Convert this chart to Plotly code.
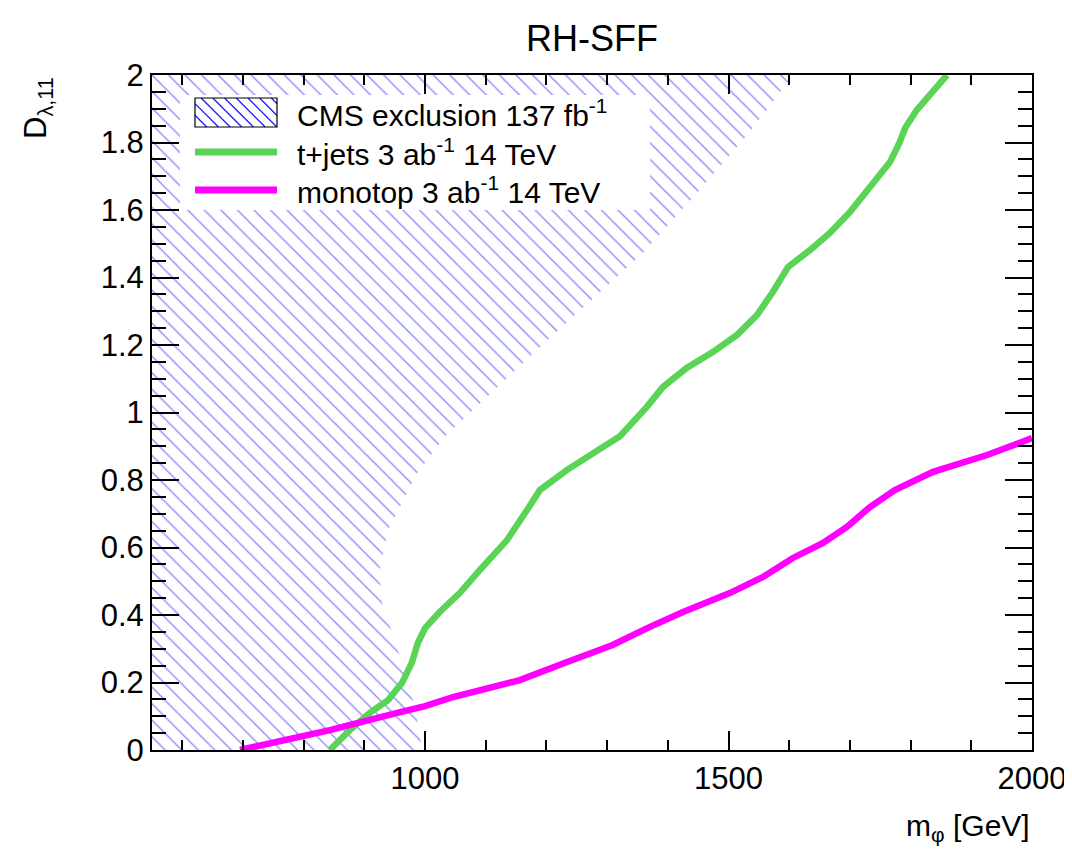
import plotly.graph_objects as go

# ---------------- data ----------------
cms_x = [550, 995, 988, 975, 955, 942, 929, 924, 939, 987, 1033, 1184, 1359, 1441, 1535, 1606, 550]
cms_y = [0, 0, 0.08, 0.187, 0.296, 0.364, 0.436, 0.524, 0.652, 0.821, 0.93, 1.185, 1.473, 1.636, 1.831, 2.0, 2.0]

tjets_x = [843, 876, 909, 939, 962, 978, 988, 1000, 1024, 1057, 1090, 1135, 1168, 1189, 1234,
           1277, 1321, 1365, 1392, 1431, 1474, 1514, 1547, 1573, 1598, 1634, 1667, 1700, 1733,
           1766, 1782, 1791, 1810, 1860]
tjets_y = [0, 0.059, 0.110, 0.148, 0.199, 0.258, 0.317, 0.361, 0.409, 0.465, 0.533, 0.622, 0.711,
           0.77, 0.83, 0.88, 0.93, 1.016, 1.076, 1.132, 1.179, 1.230, 1.289, 1.357, 1.431, 1.481,
           1.532, 1.594, 1.665, 1.742, 1.801, 1.843, 1.896, 2.0]

monotop_x = [695, 843, 954, 1000, 1046, 1156, 1234, 1309, 1366, 1425, 1502, 1557, 1606, 1655,
             1695, 1733, 1774, 1837, 1926, 2000]
monotop_y = [0, 0.059, 0.110, 0.13, 0.157, 0.207, 0.261, 0.311, 0.361, 0.409, 0.465, 0.513,
             0.569, 0.613, 0.661, 0.720, 0.770, 0.824, 0.874, 0.924]

legend_labels = ["CMS exclusion 137 fb<sup>-1</sup>",
                 "t+jets 3 ab<sup>-1</sup> 14 TeV",
                 "monotop 3 ab<sup>-1</sup> 14 TeV"]

x_range = [550, 2000]
y_range = [0, 2]

# ---------------- styling ----------------
GREEN = "rgb(89,212,84)"
MAGENTA = "rgb(255,0,255)"
HATCH = "rgb(30,30,250)"
FONT = "Liberation Sans"

OFF = 8                      # browser body margin
W, H = 1072 - OFF, 849 - OFF
# plot area in reference-page pixels
L, R, T, B = 152, 1032, 75, 750
PW, PH = R - L, B - T


def px(x):
    return (x - L) / PW


def py(y):
    return (B - y) / PH


fig = go.Figure()

fig.add_trace(go.Scatter(
    x=cms_x, y=cms_y, mode="lines", fill="toself",
    line=dict(width=0, color="rgba(0,0,0,0)"),
    fillcolor="rgba(0,0,0,0)",
    fillpattern=dict(shape="\\", fgcolor=HATCH, bgcolor="rgba(0,0,0,0)",
                     size=11.7, solidity=0.12),
    showlegend=False, hoverinfo="skip"))

fig.add_trace(go.Scatter(x=tjets_x, y=tjets_y, mode="lines",
                         line=dict(color=GREEN, width=6.5), showlegend=False))
fig.add_trace(go.Scatter(x=monotop_x, y=monotop_y, mode="lines",
                         line=dict(color=MAGENTA, width=6.5), showlegend=False))

# ---------------- manual legend ----------------
shapes = []
shapes.append(dict(type="rect", xref="paper", yref="paper",
                   x0=px(180), x1=px(650), y0=py(210), y1=py(95),
                   fillcolor="white", line=dict(width=0), layer="above"))
# hatched swatch
sx0, sx1, sy0, sy1 = 195, 277, 98, 127
segs = []
c = sx0 - sy1
while c <= sx1 - sy0:
    ya = max(sy0, sx0 - c)
    yb = min(sy1, sx1 - c)
    if yb > ya:
        segs.append("M%.4f,%.4f L%.4f,%.4f" % (px(ya + c), py(ya), px(yb + c), py(yb)))
    c += 11.7
shapes.append(dict(type="path", xref="paper", yref="paper", path=" ".join(segs),
                   line=dict(color=HATCH, width=1.3), layer="above"))
shapes.append(dict(type="rect", xref="paper", yref="paper",
                   x0=px(sx0), x1=px(sx1), y0=py(sy1), y1=py(sy0),
                   line=dict(color="black", width=1.2), layer="above"))
for ypix, col in [(152, GREEN), (190, MAGENTA)]:
    shapes.append(dict(type="line", xref="paper", yref="paper",
                       x0=px(195), x1=px(277), y0=py(ypix), y1=py(ypix),
                       line=dict(color=col, width=7), layer="above"))

annotations = []
for lab, ypix in zip(legend_labels, [113, 152, 190]):
    annotations.append(dict(text=lab, xref="paper", yref="paper", x=px(295), y=py(ypix),
                            xanchor="left", yanchor="middle", showarrow=False,
                            font=dict(family=FONT, size=30, color="black")))

# axis titles
annotations.append(dict(text="m<sub>φ</sub> [GeV]", xref="paper", yref="paper",
                        x=1.0, y=py(827), xanchor="right", yanchor="middle",
                        showarrow=False, font=dict(family=FONT, size=30, color="black")))
annotations.append(dict(text="D<sub>λ,11</sub>", xref="paper", yref="paper",
                        x=px(38), y=1.0, xanchor="center", yanchor="top", textangle=-90,
                        showarrow=False, font=dict(family=FONT, size=31, color="black")))

axis_common = dict(showline=True, linecolor="black", linewidth=2, mirror="allticks",
                   ticks="inside", tickcolor="black", tickwidth=2, showgrid=False,
                   zeroline=False, automargin=False,
                   tickfont=dict(family=FONT, size=31, color="black"))

fig.update_layout(
    width=W, height=H,
    margin=dict(l=L - OFF, r=W - (R - OFF), t=T - OFF, b=H - (B - OFF), autoexpand=False),
    paper_bgcolor="white", plot_bgcolor="white",
    title=dict(text="RH-SFF", x=px((L + R) / 2), xref="paper", xanchor="center",
               y=1 - (38 - OFF) / H, yanchor="middle",
               font=dict(family=FONT, size=36, color="black")),
    xaxis=dict(range=x_range, tick0=0, dtick=500, ticklen=19,
               minor=dict(dtick=100, ticklen=10, ticks="inside", tickcolor="black", tickwidth=2),
               **axis_common),
    yaxis=dict(range=y_range, tick0=0, dtick=0.2, ticklen=27,
               minor=dict(dtick=0.05, ticklen=14, ticks="inside", tickcolor="black", tickwidth=2),
               **axis_common),
    shapes=shapes, annotations=annotations, showlegend=False,
)

fig.write_html("out.html")
